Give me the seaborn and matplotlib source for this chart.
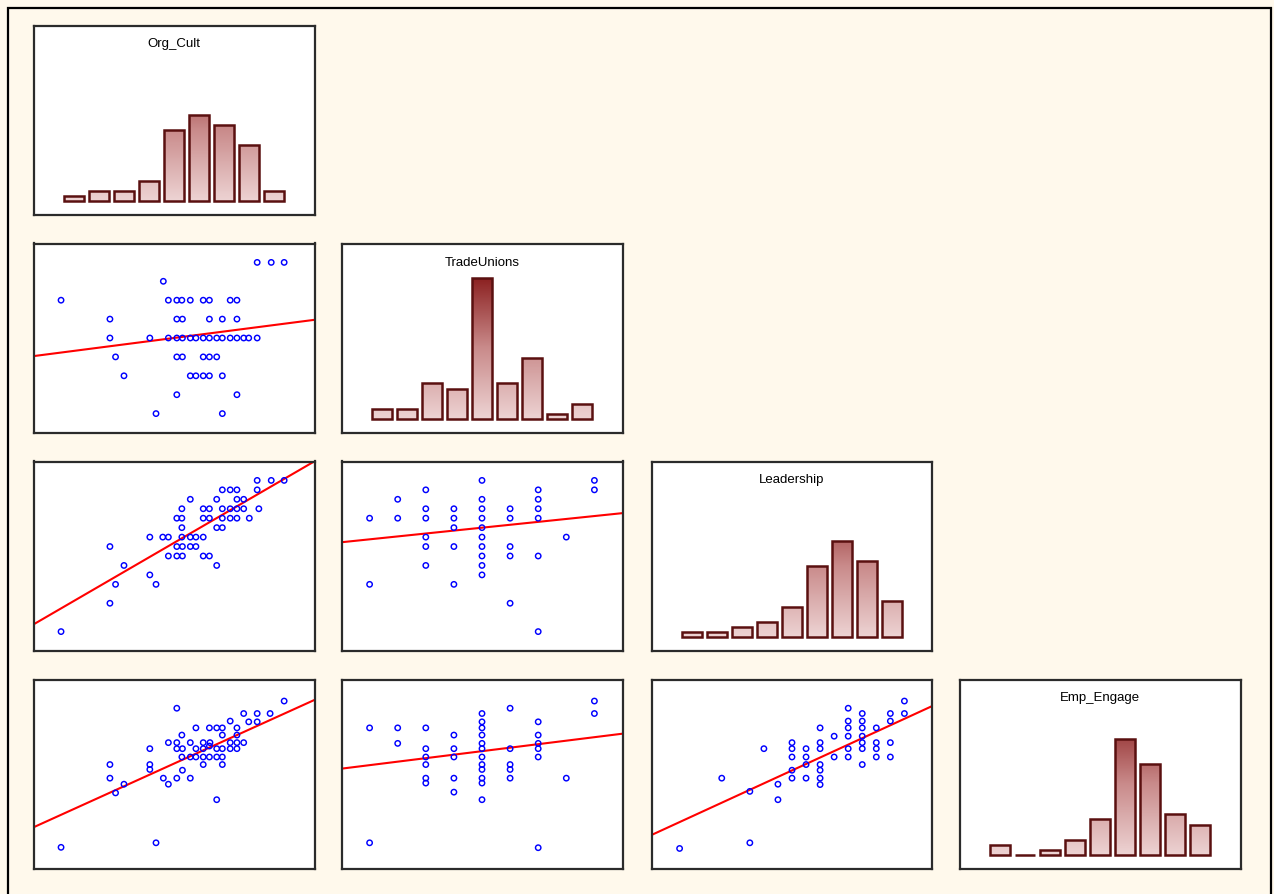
import numpy as np
import pandas as pd
import matplotlib
matplotlib.use("Agg")
import matplotlib.pyplot as plt
import seaborn as sns
from matplotlib.colors import LinearSegmentedColormap
from matplotlib.patches import Rectangle

# ---------------------------------------------------------------- data
VARIABLES = ["Org_Cult", "TradeUnions", "Leadership", "Emp_Engage"]

# histogram counts for nine equal bins spanning the 1-5 scale
ORG_CULT_COUNTS = [1, 2, 2, 4, 14, 17, 15, 11, 2]
TRADE_UNIONS_COUNTS = [2, 2, 7, 6, 28, 7, 12, 1, 3]
LEADERSHIP_COUNTS = [1, 1, 2, 3, 6, 14, 19, 15, 7]
EMP_ENGAGE_COUNTS = [2, 0, 1, 3, 7, 23, 18, 8, 6]

# scatter pairs (x, y) for each lower-triangle cell
ORG_CULT_VS_TRADE_UNIONS = [
    (4.48, 5.0), (4.73, 5.0), (4.96, 5.0),
    (2.81, 4.5),
    (0.99, 4.0), (2.90, 4.0), (3.05, 4.0), (3.14, 4.0), (3.29, 4.0), (3.52, 4.0),
    (3.63, 4.0), (4.00, 4.0), (4.12, 4.0),
    (1.86, 3.5), (3.05, 3.5), (3.15, 3.5), (3.63, 3.5), (3.86, 3.5), (4.12, 3.5),
    (1.86, 3.0), (2.57, 3.0), (2.90, 3.0), (3.05, 3.0), (3.15, 3.0), (3.29, 3.0),
    (3.39, 3.0), (3.52, 3.0), (3.63, 3.0), (3.76, 3.0), (3.86, 3.0), (4.00, 3.0),
    (4.12, 3.0), (4.24, 3.0), (4.33, 3.0), (4.48, 3.0),
    (1.96, 2.5), (3.05, 2.5), (3.15, 2.5), (3.52, 2.5), (3.63, 2.5), (3.76, 2.5),
    (2.11, 2.0), (3.29, 2.0), (3.39, 2.0), (3.52, 2.0), (3.63, 2.0), (3.86, 2.0),
    (3.05, 1.5), (4.12, 1.5),
    (2.68, 1.0), (3.86, 1.0),
]

ORG_CULT_VS_LEADERSHIP = [
    (4.48, 5.0), (4.73, 5.0), (4.96, 5.0),
    (3.86, 4.75), (4.00, 4.75), (4.12, 4.75), (4.48, 4.75),
    (3.29, 4.5), (3.76, 4.5), (4.12, 4.5), (4.24, 4.5),
    (3.14, 4.25), (3.52, 4.25), (3.63, 4.25), (3.86, 4.25), (4.00, 4.25),
    (4.12, 4.25), (4.24, 4.25), (4.51, 4.25),
    (3.05, 4.0), (3.14, 4.0), (3.52, 4.0), (3.63, 4.0), (3.86, 4.0), (4.00, 4.0),
    (4.12, 4.0), (4.34, 4.0),
    (3.14, 3.75), (3.76, 3.75), (3.86, 3.75),
    (2.57, 3.5), (2.80, 3.5), (2.90, 3.5), (3.14, 3.5), (3.29, 3.5), (3.39, 3.5),
    (3.52, 3.5),
    (1.86, 3.25), (3.05, 3.25), (3.15, 3.25), (3.29, 3.25), (3.39, 3.25),
    (2.90, 3.0), (3.05, 3.0), (3.15, 3.0), (3.52, 3.0), (3.63, 3.0),
    (2.11, 2.75), (3.76, 2.75),
    (2.57, 2.5),
    (1.96, 2.25), (2.68, 2.25),
    (1.86, 1.75),
    (0.99, 1.0),
]

ORG_CULT_VS_EMP_ENGAGE = [
    (4.96, 4.93), (3.05, 4.74), (4.24, 4.60), (4.48, 4.60), (4.71, 4.60),
    (4.00, 4.40), (4.33, 4.38), (4.48, 4.38),
    (3.39, 4.22), (3.63, 4.22), (3.76, 4.22), (3.86, 4.22), (4.12, 4.22),
    (3.14, 4.03), (3.86, 4.03), (4.12, 4.03),
    (2.90, 3.83), (3.05, 3.83), (3.29, 3.83), (3.52, 3.83), (3.64, 3.83),
    (4.00, 3.83), (4.12, 3.83), (4.24, 3.83),
    (2.57, 3.67), (3.05, 3.67), (3.15, 3.67), (3.39, 3.67), (3.52, 3.67),
    (3.63, 3.74), (3.76, 3.67), (3.86, 3.67), (4.00, 3.67), (4.12, 3.67),
    (3.14, 3.45), (3.29, 3.45), (3.39, 3.45), (3.52, 3.45), (3.63, 3.45),
    (3.76, 3.45), (3.86, 3.45),
    (1.86, 3.25), (2.57, 3.25), (3.52, 3.25), (3.86, 3.25),
    (2.57, 3.12), (3.15, 3.10),
    (1.86, 2.89), (2.81, 2.89), (3.05, 2.89), (3.29, 2.89),
    (2.11, 2.73), (2.90, 2.73),
    (1.96, 2.50), (3.76, 2.32),
    (2.68, 1.18), (0.99, 1.06),
]

TRADE_UNIONS_VS_LEADERSHIP = [
    (1.0, 4.0), (1.0, 2.25),
    (1.5, 4.5), (1.5, 4.0),
    (2.0, 4.75), (2.0, 4.25), (2.0, 4.0), (2.0, 3.5), (2.0, 3.25), (2.0, 2.75),
    (2.5, 4.25), (2.5, 4.0), (2.5, 3.75), (2.5, 3.25), (2.5, 2.25),
    (3.0, 5.0), (3.0, 4.5), (3.0, 4.25), (3.0, 4.0), (3.0, 3.75), (3.0, 3.5),
    (3.0, 3.25), (3.0, 3.0), (3.0, 2.75), (3.0, 2.5),
    (3.5, 4.25), (3.5, 4.0), (3.5, 3.25), (3.5, 3.0), (3.5, 1.75),
    (4.0, 4.75), (4.0, 4.5), (4.0, 4.25), (4.0, 4.0), (4.0, 3.0), (4.0, 1.0),
    (4.5, 3.5),
    (5.0, 5.0), (5.0, 4.75),
]

TRADE_UNIONS_VS_EMP_ENGAGE = [
    (1.0, 4.22), (1.0, 1.18),
    (1.5, 4.22), (1.5, 3.81),
    (2.0, 4.22), (2.0, 3.67), (2.0, 3.45), (2.0, 3.25), (2.0, 2.89), (2.0, 2.76),
    (2.5, 4.03), (2.5, 3.67), (2.5, 3.45), (2.5, 2.89), (2.5, 2.52),
    (3.0, 4.60), (3.0, 4.38), (3.0, 4.22), (3.0, 4.03), (3.0, 3.81), (3.0, 3.67),
    (3.0, 3.45), (3.0, 3.25), (3.0, 3.12), (3.0, 2.89), (3.0, 2.76), (3.0, 2.32),
    (3.5, 4.74), (3.5, 3.67), (3.5, 3.25), (3.5, 3.12), (3.5, 2.89),
    (4.0, 4.38), (4.0, 4.03), (4.0, 3.81), (4.0, 3.67), (4.0, 3.45), (4.0, 1.05),
    (4.5, 2.89),
    (5.0, 4.93), (5.0, 4.60),
]

LEADERSHIP_VS_EMP_ENGAGE = [
    (1.0, 1.03),
    (1.75, 2.89),
    (2.25, 2.54), (2.25, 1.18),
    (2.5, 3.67),
    (2.75, 2.73), (2.75, 2.32),
    (3.0, 3.83), (3.0, 3.67), (3.0, 3.45), (3.0, 3.10), (3.0, 2.89),
    (3.25, 3.67), (3.25, 3.45), (3.25, 3.25), (3.25, 2.89),
    (3.5, 4.22), (3.5, 3.83), (3.5, 3.67), (3.5, 3.25), (3.5, 3.10), (3.5, 2.89),
    (3.5, 2.72),
    (3.75, 4.00), (3.75, 3.45),
    (4.0, 4.74), (4.0, 4.40), (4.0, 4.22), (4.0, 4.00), (4.0, 3.67), (4.0, 3.45),
    (4.25, 4.60), (4.25, 4.40), (4.25, 4.22), (4.25, 4.00), (4.25, 3.83),
    (4.25, 3.67), (4.25, 3.25),
    (4.5, 4.22), (4.5, 3.83), (4.5, 3.67), (4.5, 3.45),
    (4.75, 4.60), (4.75, 4.40), (4.75, 3.83), (4.75, 3.45),
    (5.0, 4.93), (5.0, 4.60),
]

# least-squares lines (intercept, slope) for each cell
FIT_ORG_CULT_TRADE_UNIONS = (2.425, 0.192)
FIT_ORG_CULT_LEADERSHIP = (0.759, 0.863)
FIT_ORG_CULT_EMP_ENGAGE = (1.253, 0.674)
FIT_TRADE_UNIONS_LEADERSHIP = (3.287, 0.154)
FIT_TRADE_UNIONS_EMP_ENGAGE = (3.049, 0.185)
FIT_LEADERSHIP_EMP_ENGAGE = (1.045, 0.683)

# ---------------------------------------------------------------- style
W, H = 1274, 894
CREAM = "#FFF9EC"
FRAME = "#2B2B2B"
BLUE = "#0000FF"
RED = "#FF0000"
BAR_EDGE = "#5A1010"
SCALE_LIM = (0.5, 5.5)
HIST_YLIM = (-2.75, 34.85)
BIN_EDGES = [1.0 + 4.0 * k / 9 for k in range(10)]

COL_LEFT = [33.5, 341.5, 651.5, 959.5]
ROW_TOP = [25.5, 243.5, 461.5, 679.5]
PANEL_W, PANEL_H = 281, 189

bar_cmap = LinearSegmentedColormap.from_list(
    "bar_fill", ["#EDD3D3", "#C98A8A", "#8A1E1E"])

sns.set_theme(style="white")
plt.rcParams["font.family"] = ["Liberation Sans", "DejaVu Sans"]

fig = plt.figure(figsize=(W / 100, H / 100), dpi=100, facecolor=CREAM)

# outer frame of the matrix window
fig.add_artist(Rectangle((8 / W, -0.05), (1271 - 8) / W, 1 - 8 / H + 0.05,
                         transform=fig.transFigure, fill=False,
                         edgecolor="black", linewidth=1.6))


def make_panel(row, col):
    left = COL_LEFT[col] / W
    bottom = 1 - (ROW_TOP[row] + PANEL_H) / H
    ax = fig.add_axes([left, bottom, PANEL_W / W, PANEL_H / H])
    ax.set_facecolor("white")
    for sp in ax.spines.values():
        sp.set_visible(True)
        sp.set_color(FRAME)
        sp.set_linewidth(1.6)
        sp.set_zorder(5)
    return ax


def finish(ax, ylim):
    ax.set_xlim(*SCALE_LIM)
    ax.set_ylim(*ylim)
    ax.set_xticks([])
    ax.set_yticks([])
    ax.set_xlabel("")
    ax.set_ylabel("")


def draw_hist(ax, counts, title):
    centers = [(a + b) / 2 for a, b in zip(BIN_EDGES[:-1], BIN_EDGES[1:])]
    df = pd.DataFrame({"value": centers, "count": counts})
    sns.histplot(data=df, x="value", weights="count", bins=BIN_EDGES,
                 shrink=0.82, color="#B06060", edgecolor=BAR_EDGE,
                 linewidth=1.8, alpha=1.0, ax=ax)
    for patch in list(ax.patches):
        x0, w, h = patch.get_x(), patch.get_width(), patch.get_height()
        if h > 0:
            grad = np.linspace(0, h, 128).reshape(-1, 1)
            im = ax.imshow(grad, extent=(x0, x0 + w, 0, h), origin="lower",
                           cmap=bar_cmap, vmin=0, vmax=28.5, aspect="auto",
                           interpolation="bilinear", zorder=1)
            im.set_clip_path(patch)
        patch.set_facecolor("none")
        patch.set_zorder(2)
    ax.text(0.5, 1 - 19 / PANEL_H, title, transform=ax.transAxes,
            ha="center", va="center", fontsize=9.5, color="black")
    finish(ax, HIST_YLIM)


def draw_scatter(ax, pairs, fit):
    df = pd.DataFrame(pairs, columns=["x", "y"])
    sns.scatterplot(data=df, x="x", y="y", ax=ax, marker="o", s=15,
                    color=BLUE, linewidth=1.05, zorder=3)
    pts = ax.collections[-1]
    pts.set_facecolor("none")
    pts.set_edgecolor(BLUE)
    intercept, slope = fit
    ax.axline((0.0, intercept), slope=slope, color=RED, linewidth=1.5,
              zorder=2)
    finish(ax, SCALE_LIM)


hist_counts = [ORG_CULT_COUNTS, TRADE_UNIONS_COUNTS,
               LEADERSHIP_COUNTS, EMP_ENGAGE_COUNTS]
for i, name in enumerate(VARIABLES):
    draw_hist(make_panel(i, i), hist_counts[i], name)

cells = [
    (1, 0, ORG_CULT_VS_TRADE_UNIONS, FIT_ORG_CULT_TRADE_UNIONS),
    (2, 0, ORG_CULT_VS_LEADERSHIP, FIT_ORG_CULT_LEADERSHIP),
    (3, 0, ORG_CULT_VS_EMP_ENGAGE, FIT_ORG_CULT_EMP_ENGAGE),
    (2, 1, TRADE_UNIONS_VS_LEADERSHIP, FIT_TRADE_UNIONS_LEADERSHIP),
    (3, 1, TRADE_UNIONS_VS_EMP_ENGAGE, FIT_TRADE_UNIONS_EMP_ENGAGE),
    (3, 2, LEADERSHIP_VS_EMP_ENGAGE, FIT_LEADERSHIP_EMP_ENGAGE),
]
for row, col, pairs, fit in cells:
    draw_scatter(make_panel(row, col), pairs, fit)

fig.savefig("out.png", dpi=100, facecolor=fig.get_facecolor())
